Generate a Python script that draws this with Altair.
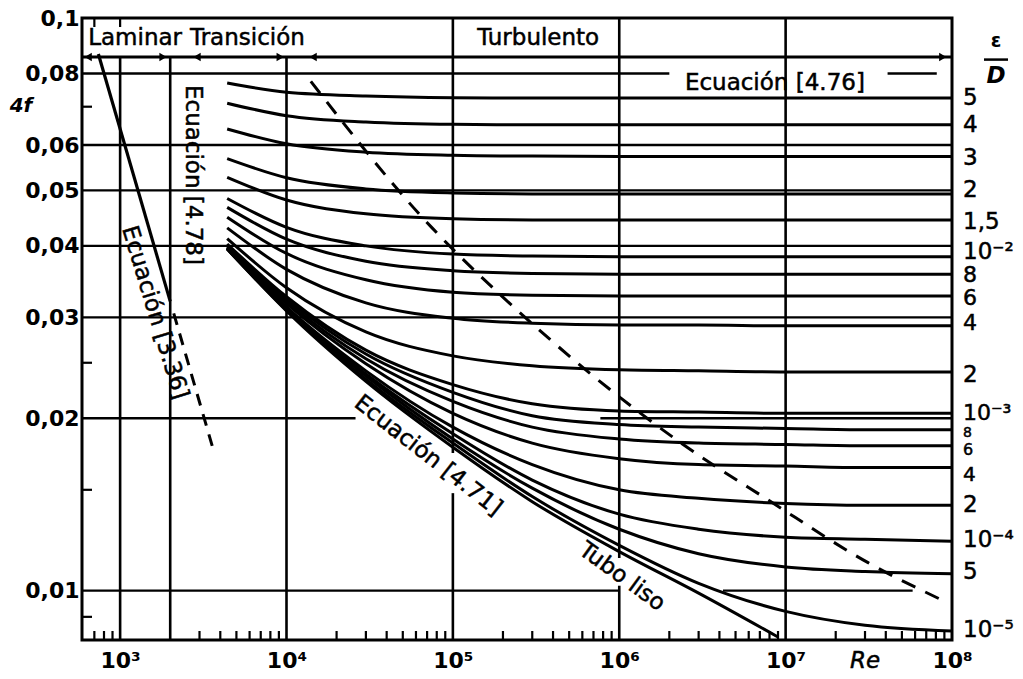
import altair as alt
import pandas as pd

FONT = "DejaVu Sans"
RE_MIN, RE_MAX = 590, 1e8
F_MIN, F_MAX = 0.0082, 0.1

# Reynolds numbers at which every roughness curve is tabulated
re_grid = [4.4e3, 1e4, 3e4, 1e5, 3e5, 1e6, 3e6, 1e7, 3e7, 1e8]

# 4f (eps/D)
f_5e2 = [0.0770, 0.0742, 0.0731, 0.0726, 0.0725, 0.0725, 0.0725, 0.0725, 0.0725, 0.0725]
f_4e2 = [0.0710, 0.0675, 0.0658, 0.0652, 0.0651, 0.0651, 0.0651, 0.0651, 0.0651, 0.0651]
f_3e2 = [0.0640, 0.0603, 0.0583, 0.0576, 0.0574, 0.0573, 0.0573, 0.0573, 0.0573, 0.0573]
f_2e2 = [0.0568, 0.0526, 0.0503, 0.0495, 0.0493, 0.0493, 0.0493, 0.0493, 0.0493, 0.0493]
f_15e3 = [0.0527, 0.0481, 0.0455, 0.0446, 0.0444, 0.0444, 0.0444, 0.0444, 0.0444, 0.0444]
f_1e2 = [0.0484, 0.0431, 0.0400, 0.0387, 0.0384, 0.0383, 0.0383, 0.0383, 0.0383, 0.0383]
f_8e3 = [0.0467, 0.0411, 0.0376, 0.0362, 0.0358, 0.0357, 0.0357, 0.0357, 0.0357, 0.0357]
f_6e3 = [0.0449, 0.0388, 0.0349, 0.0332, 0.0328, 0.0327, 0.0327, 0.0327, 0.0327, 0.0327]
f_4e3 = [0.0430, 0.0364, 0.0318, 0.0299, 0.0293, 0.0291, 0.0291, 0.0290, 0.0290, 0.0290]
f_2e3 = [0.0412, 0.0338, 0.0283, 0.0257, 0.0247, 0.0243, 0.0242, 0.0241, 0.0241, 0.0241]
f_1e3 = [0.0403, 0.0326, 0.0263, 0.0229, 0.0212, 0.0206, 0.0205, 0.0204, 0.0204, 0.0204]
f_8e4 = [0.0401, 0.0323, 0.0259, 0.0222, 0.0202, 0.0195, 0.0193, 0.0192, 0.0191, 0.0191]
f_6e4 = [0.0400, 0.0320, 0.0254, 0.0214, 0.0193, 0.0184, 0.0181, 0.0180, 0.0179, 0.0179]
f_4e4 = [0.0398, 0.0317, 0.0249, 0.0204, 0.0181, 0.0170, 0.0166, 0.0165, 0.0164, 0.0164]
f_2e4 = [0.0397, 0.0313, 0.0242, 0.0193, 0.0166, 0.0150, 0.0145, 0.0142, 0.0141, 0.0141]
f_1e4 = [0.0396, 0.0311, 0.0239, 0.0188, 0.0156, 0.0136, 0.0128, 0.0124, 0.0123, 0.0122]
f_5e5 = [0.0396, 0.0310, 0.0237, 0.0184, 0.0151, 0.0128, 0.0116, 0.0110, 0.0108, 0.0107]
f_1e5 = [0.0395, 0.0309, 0.0234, 0.0181, 0.0146, 0.0120, 0.0103, 0.0092, 0.0087, 0.0085]

roughness_curves = [f_5e2, f_4e2, f_3e2, f_2e2, f_15e3, f_1e2, f_8e3, f_6e3, f_4e3,
                    f_2e3, f_1e3, f_8e4, f_6e4, f_4e4, f_2e4, f_1e4, f_5e5, f_1e5]

# eps/D scale written beside the right edge
roughness_labels = ["5", "4", "3", "2", "1,5", "10⁻²", "8", "6", "4",
                    "2", "10⁻³", "8", "6", "4", "2", "10⁻⁴", "5", "10⁻⁵"]
roughness_label_f = [0.0725, 0.0650, 0.0569, 0.0501, 0.0440, 0.0390, 0.0356, 0.0324, 0.0293,
                     0.0238, 0.0204, 0.01885, 0.0176, 0.0159, 0.0141, 0.01226, 0.01078, 0.00853]
roughness_label_sizes = [23, 23, 23, 23, 23, 23, 22, 22, 22,
                         23, 22, 14, 16, 20, 23, 23, 23, 23]

# smooth pipe ("Tubo liso")
smooth_re = [4.4e3, 1e4, 3e4, 1e5, 3e5, 1e6, 3e6, 9e6]
smooth_f = [0.0395, 0.0308, 0.0232, 0.0178, 0.0143, 0.0117, 0.0099, 0.0083]

# laminar line, solid part and dashed continuation
laminar_re = [740, 2000]
laminar_f = [0.0865, 0.0320]
laminar_ext_re = [2100, 3700]
laminar_ext_f = [0.0305, 0.0173]

# dashed limit of the fully rough zone
rough_limit_re = [1.40e4, 7.5e4, 1.38e5, 1.92e5, 6.86e5, 2.52e6, 7.95e6, 3.13e7, 8.83e7]
rough_limit_f = [0.0775, 0.0430, 0.0360, 0.0329, 0.0238, 0.01785, 0.01437, 0.01119, 0.00961]

# axis ticks
decade_ticks = [1e3, 1e4, 1e5, 1e6, 1e7, 1e8]
f_ticks = [0.01, 0.02, 0.03, 0.04, 0.05, 0.06, 0.08, 0.1]
minor_re = [700, 800, 900, 3e3, 4e3, 5e3, 6e3, 7e3, 8e3, 9e3,
            2e4, 3e4, 4e4, 5e4, 6e4, 7e4, 8e4, 9e4,
            2e5, 3e5, 4e5, 5e5, 6e5, 7e5, 8e5, 9e5,
            2e6, 3e6, 4e6, 5e6, 6e6, 7e6, 8e6, 9e6,
            2e7, 3e7, 4e7, 5e7, 6e7, 7e7, 8e7, 9e7]
minor_f = [0.07, 0.025, 0.015, 0.009]
top_ticks_re = [700, 1e3]

# grid segments
vgrid_re = [1e3, 2e3, 1e4, 1e5, 1e5, 1e6, 1e6, 1e7]
vgrid_top = [0.0855, 0.0855, 0.0855, 0.1, 0.0148, 0.1, 0.0102, 0.1]
vgrid_bot = [F_MIN, F_MIN, F_MIN, 0.0174, F_MIN, 0.0114, F_MIN, F_MIN]
hgrid_f = [0.08, 0.08, 0.06, 0.05, 0.04, 0.03, 0.02, 0.02, 0.01, 0.01]
hgrid_left = [RE_MIN, 4.1e7, RE_MIN, RE_MIN, RE_MIN, RE_MIN, RE_MIN, 7.7e5, RE_MIN, 4.2e6]
hgrid_right = [2.0e6, 8.1e7, RE_MAX, RE_MAX, RE_MAX, RE_MAX, 2.6e4, RE_MAX, 1e6, 5.8e7]

# flow-regime band
band_f = 0.0855
arrow_right_re = [1.81e3, 9.16e3, 8.8e7]
arrow_left_re = [643, 2.9e3, 1.445e4]
band_text = ["Laminar", "Transición", "Turbulento"]
band_text_re = [643, 2.63e3, 1.40e5]
band_text_f = [0.0921, 0.0921, 0.0921]

# rotated annotations
note_text = ["Ecuación [4.78]", "Ecuación [3.36]", "Ecuación [4.71]", "Tubo liso"]
note_re = [2.75e3, 1.62e3, 7.1e4, 1.04e6]
note_f = [0.0532, 0.0306, 0.01722, 0.01058]
note_angle = [90, 73, 38, 36]

x_scale = alt.Scale(type="log", domain=[RE_MIN, RE_MAX], nice=False)
y_scale = alt.Scale(type="log", domain=[F_MIN, F_MAX], nice=False)

sup = {3: "³", 4: "⁴", 5: "⁵", 6: "⁶", 7: "⁷", 8: "⁸"}
x_label_expr = " : ".join(
    f"datum.value == {10 ** k} ? '10{s}'" for k, s in sup.items()) + " : ''"

x_axis = alt.Axis(values=decade_ticks, labelExpr=x_label_expr, title=None, grid=False,
                  ticks=False, domain=False, labelFont=FONT, labelFontSize=22,
                  labelFontWeight="bold", labelColor="black", labelPadding=10,
                  labelFlush=False, labelOverlap=False)
y_axis = alt.Axis(values=f_ticks, labelExpr="replace(format(datum.value, '~g'), '.', ',')",
                  title=None, grid=False, ticks=False, domain=False, labelFont=FONT,
                  labelFontSize=22, labelFontWeight="bold", labelColor="black",
                  labelPadding=3, labelOverlap=False)


def X(field):
    return alt.X(field, type="quantitative", scale=x_scale, axis=x_axis)


def Y(field):
    return alt.Y(field, type="quantitative", scale=y_scale, axis=y_axis)


def XD(value):
    return alt.X(datum=value, scale=x_scale, axis=x_axis)


def YD(value):
    return alt.Y(datum=value, scale=y_scale, axis=y_axis)


INK = dict(color="black", stroke="black", strokeWidth=0.5)

rows = []
for idx, vals in enumerate(roughness_curves):
    for r, v in zip(re_grid, vals):
        rows.append({"re": r, "f": v, "curve": f"c{idx}"})
for r, v in zip(smooth_re, smooth_f):
    rows.append({"re": r, "f": v, "curve": "smooth"})
curves_df = pd.DataFrame(rows)

ends_df = pd.DataFrame({
    "re": [RE_MAX] * len(roughness_labels),
    "f": roughness_label_f,
    "label": roughness_labels,
    "size": roughness_label_sizes,
})

vgrid_df = pd.DataFrame({"re": vgrid_re, "top": vgrid_top, "bot": vgrid_bot})
hgrid_df = pd.DataFrame({"f": hgrid_f, "left": hgrid_left, "right": hgrid_right})

vgrid = alt.Chart(vgrid_df).mark_rule(color="black", strokeWidth=2.6).encode(
    x=X("re"), y=Y("top"), y2="bot:Q")
hgrid = alt.Chart(hgrid_df).mark_rule(color="black", strokeWidth=2.4).encode(
    x=X("left"), x2="right:Q", y=Y("f"))

band_line = alt.Chart(pd.DataFrame({"f": [band_f]})).mark_rule(
    color="black", strokeWidth=3).encode(
    x=XD(RE_MIN), x2=alt.datum(RE_MAX), y=Y("f"))
arrows_r = alt.Chart(pd.DataFrame({"re": arrow_right_re, "f": [band_f] * 3})).mark_point(
    shape="triangle-right", filled=True, color="black", opacity=1, size=70).encode(
    x=X("re"), y=Y("f"))
arrows_l = alt.Chart(pd.DataFrame({"re": arrow_left_re, "f": [band_f] * 3})).mark_point(
    shape="triangle-left", filled=True, color="black", opacity=1, size=70).encode(
    x=X("re"), y=Y("f"))
band_labels = alt.Chart(pd.DataFrame(
    {"re": band_text_re, "f": band_text_f, "t": band_text})).mark_text(
    align="left", baseline="middle", font=FONT, fontSize=23, **INK).encode(
    x=X("re"), y=Y("f"), text="t:N")

curves = alt.Chart(curves_df).mark_line(
    color="black", strokeWidth=3, interpolate="monotone").encode(
    x=X("re"), y=Y("f"), detail="curve:N")

laminar = alt.Chart(pd.DataFrame({"re": laminar_re, "f": laminar_f})).mark_line(
    color="black", strokeWidth=3.2).encode(x=X("re"), y=Y("f"))
laminar_ext = alt.Chart(pd.DataFrame({"re": laminar_ext_re, "f": laminar_ext_f})).mark_line(
    color="black", strokeWidth=3, strokeDash=[12, 9]).encode(x=X("re"), y=Y("f"))
rough_limit = alt.Chart(pd.DataFrame({"re": rough_limit_re, "f": rough_limit_f})).mark_line(
    color="black", strokeWidth=3, strokeDash=[15, 11], interpolate="monotone").encode(
    x=X("re"), y=Y("f"))

end_labels = alt.Chart(ends_df).mark_text(
    align="left", baseline="middle", dx=11, font=FONT, **INK).encode(
    x=X("re"), y=Y("f"), text="label:N", size=alt.Size("size:Q", scale=None))

notes = alt.Chart(pd.DataFrame({"re": note_re, "f": note_f, "t": note_text,
                                "a": note_angle})).mark_text(
    align="center", baseline="middle", font=FONT, fontSize=23, **INK).encode(
    x=X("re"), y=Y("f"), text="t:N", angle=alt.Angle("a:Q", scale=None))

eq476 = alt.Chart(pd.DataFrame({"re": [2.48e6], "f": [0.0770],
                                "t": ["Ecuación [4.76]"]})).mark_text(
    align="left", baseline="middle", font=FONT, fontSize=23, **INK).encode(
    x=X("re"), y=Y("f"), text="t:N")

minor_x = alt.Chart(pd.DataFrame({"re": minor_re})).mark_tick(
    orient="vertical", size=9, thickness=2.2, yOffset=-4.5, color="black", opacity=1).encode(
    x=X("re"), y=YD(F_MIN))
top_x = alt.Chart(pd.DataFrame({"re": top_ticks_re})).mark_tick(
    orient="vertical", size=9, thickness=2.2, yOffset=4.5, color="black", opacity=1).encode(
    x=X("re"), y=YD(F_MAX))
minor_y = alt.Chart(pd.DataFrame({"f": minor_f})).mark_tick(
    orient="horizontal", size=10, thickness=2.2, xOffset=5, color="black", opacity=1).encode(
    x=XD(RE_MIN), y=Y("f"))

eps = alt.Chart(pd.DataFrame({"f": [0.0912], "t": ["ε"]})).mark_text(
    font=FONT, fontSize=19, fontWeight="bold", color="black", dx=44,
    baseline="middle").encode(x=XD(RE_MAX), y=Y("f"), text="t:N")
dee = alt.Chart(pd.DataFrame({"f": [0.0791], "t": ["D"]})).mark_text(
    font=FONT, fontSize=23, fontWeight="bold", fontStyle="italic", color="black", dx=44,
    baseline="middle").encode(x=XD(RE_MAX), y=Y("f"), text="t:N")
frac_bar = alt.Chart(pd.DataFrame({"f": [0.0846]})).mark_tick(
    orient="horizontal", size=24, thickness=2.5, xOffset=44, color="black", opacity=1).encode(
    x=XD(RE_MAX), y=Y("f"))

four_f = alt.Chart(pd.DataFrame({"f": [0.0702], "t": ["4f"]})).mark_text(
    font=FONT, fontSize=20, fontWeight="bold", fontStyle="italic", color="black", dx=-61,
    baseline="middle").encode(x=XD(RE_MIN), y=Y("f"), text="t:N")
re_title = alt.Chart(pd.DataFrame({"re": [3.0e7], "t": ["Re"]})).mark_text(
    font=FONT, fontSize=23, fontStyle="italic", dy=21, baseline="middle", **INK).encode(
    x=X("re"), y=YD(F_MIN), text="t:N")

chart = alt.layer(
    vgrid, hgrid, band_line, arrows_r, arrows_l, band_labels, curves, laminar,
    laminar_ext, rough_limit, end_labels, notes, eq476, minor_x, top_x, minor_y,
    eps, dee, frac_bar, four_f, re_title,
).properties(
    width=870, height=622,
    padding={"left": 82, "top": 18, "right": 71, "bottom": 39},
    autosize=alt.AutoSizeParams(type="none"),
    background="white",
).configure_view(stroke="black", strokeWidth=3)

chart.save("out.html", embed_options={"renderer": "svg", "actions": False})
